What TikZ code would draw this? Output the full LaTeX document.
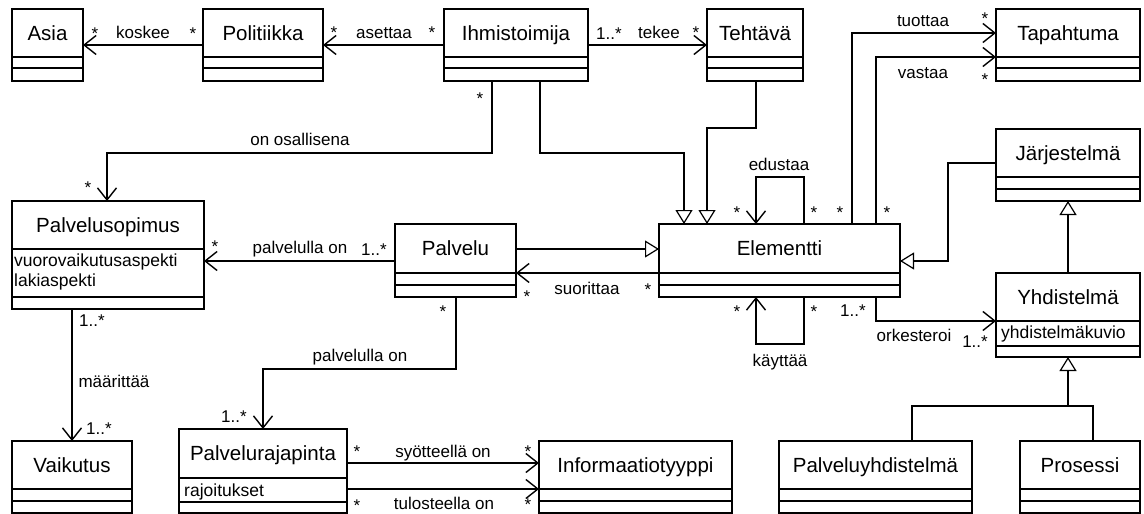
\documentclass[tikz,border=0pt]{standalone}
\usepackage{fontspec}
\setmainfont{Liberation Sans}
\usetikzlibrary{arrows.meta}

\tikzset{
  cls/.style={draw, line width=1.2pt, inner sep=0pt, outer sep=0pt, anchor=north west},
  conn/.style={line width=1.2pt},
  assoc/.style={conn, -{Straight Barb[length=12pt,width=19pt,line width=1.4pt]}},
  gen/.style={conn, -{Triangle[open,length=14pt,width=17pt]}},
  ctitle/.style={font=\fontsize{20.5}{24}\selectfont, anchor=base, inner sep=0pt},
  lbl/.style={font=\fontsize{17}{20}\selectfont, anchor=base, inner sep=0pt},
  attr/.style={font=\fontsize{17.5}{20}\selectfont, anchor=base west, inner sep=0pt},
}

% UML class box: name, left x, top y, width, height, title, header height, second rule offset
\newcommand\umlclass[8]{%
  \node[cls, minimum width=#4pt, minimum height=#5pt] (#1) at (#2,-#3) {};
  \draw[conn] ([yshift=-#7pt]#1.north west) -- ([yshift=-#7pt]#1.north east);
  \draw[conn] ([yshift=-#8pt]#1.north west) -- ([yshift=-#8pt]#1.north east);
  \node[ctitle] (#1-title) at ([yshift={-(#7/2+7.3)*1pt}]#1.north) {#6};
}

\begin{document}
\begin{tikzpicture}[x=1pt, y=1pt]
\useasboundingbox (0,0) rectangle (1144,-514);

% classes
\umlclass{asia}{12}{9}{71}{72}{Asia}{48}{59}
\umlclass{pol}{203}{9}{120}{72}{Politiikka}{48}{59}
\umlclass{ihm}{444}{9}{144}{72}{Ihmistoimija}{48}{59}
\umlclass{teh}{707}{9}{96}{72}{Tehtävä}{48}{59}
\umlclass{tap}{996}{9}{144}{72}{Tapahtuma}{48}{59}
\umlclass{jar}{996}{129}{144}{72}{Järjestelmä}{48}{60}
\umlclass{sop}{12}{201}{192}{108}{Palvelusopimus}{48}{96}
\umlclass{pal}{395}{224}{121}{73}{Palvelu}{49}{61}
\umlclass{ele}{659}{224}{241}{73}{Elementti}{49}{61}
\umlclass{yhd}{996}{273}{144}{84}{Yhdistelmä}{48}{73}
\umlclass{vai}{12}{441}{120}{72}{Vaikutus}{48}{60}
\umlclass{raj}{179}{429}{168}{84}{Palvelurajapinta}{49}{73}
\umlclass{inf}{539}{441}{193}{72}{Informaatiotyyppi}{48}{60}
\umlclass{pyh}{779}{441}{193}{72}{Palveluyhdistelmä}{48}{60}
\umlclass{pro}{1020}{441}{120}{72}{Prosessi}{48}{60}

% attributes
\node[attr] (sop-a1) at ([xshift=2pt,yshift=-65pt]sop.north west) {vuorovaikutusaspekti};
\node[attr] (sop-a2) at ([xshift=2pt,yshift=-85pt]sop.north west) {lakiaspekti};
\node[attr] (yhd-a1) at ([xshift=5pt,yshift=-65pt]yhd.north west) {yhdistelmäkuvio};
\node[attr] (raj-a1) at ([xshift=5pt,yshift=-67pt]raj.north west) {rajoitukset};

% associations
\draw[assoc] ([yshift=-36pt]pol.north west) -- ([yshift=-36pt]asia.north east);
\draw[assoc] ([yshift=-36pt]ihm.north west) -- ([yshift=-36pt]pol.north east);
\draw[assoc] ([yshift=-36pt]ihm.north east) -- ([yshift=-36pt]teh.north west);
\draw[assoc] ([xshift=48pt]ihm.south west) -- ++(0,-72) -| ([xshift=95pt]sop.north west);
\draw[assoc] ([xshift=145pt]ele.north west) -- ++(0,47) -| ([xshift=97pt]ele.north west);
\draw[assoc] ([xshift=193pt]ele.north west) |- ([yshift=-24pt]tap.north west);
\draw[assoc] ([xshift=217pt]ele.north west) |- ([yshift=-48pt]tap.north west);
\draw[assoc] ([xshift=217pt]ele.south west) |- ([yshift=-48pt]yhd.north west);
\draw[assoc] ([xshift=145pt]ele.south west) -- ++(0,-47) -| ([xshift=97pt]ele.south west);
\draw[assoc] ([yshift=-49pt]ele.north west) -- ([yshift=-49pt]pal.north east);
\draw[assoc] ([yshift=-37pt]pal.north west) -- ([yshift=-60pt]sop.north east);
\draw[assoc] ([xshift=60pt]sop.south west) -- ([xshift=60pt]vai.north west);
\draw[assoc] ([xshift=61pt]pal.south west) -- ++(0,-72) -| ([xshift=84pt]raj.north west);
\draw[assoc] ([yshift=-34pt]raj.north east) -- ([yshift=-22pt]inf.north west);
\draw[assoc] ([yshift=-60pt]raj.north east) -- ([yshift=-48pt]inf.north west);

% generalizations
\draw[gen] ([xshift=96pt]ihm.south west) -- ++(0,-72) -| ([xshift=25pt]ele.north west);
\draw[gen] ([xshift=49pt]teh.south west) -- ++(0,-47) -| ([xshift=48pt]ele.north west);
\draw[gen] ([yshift=-34pt]jar.north west) -- ++(-48,0) |- ([yshift=-37pt]ele.north east);
\draw[gen] (yhd.north) -- (jar.south);
\draw[gen] ([yshift=-25pt]pal.north east) -- ([yshift=-25pt]ele.north west);
\coordinate (gj) at ([yshift=-49pt]yhd.south);
\draw[conn] ([xshift=133pt]pyh.north west) |- (gj);
\draw[conn] ([xshift=73pt]pro.north west) |- (gj);
\draw[gen] (gj) -- (yhd.south);

% association names
\node[lbl] (l-koskee) at (143,-38.8) {koskee};
\node[lbl] (l-asettaa) at (384,-38.5) {asettaa};
\node[lbl] (l-tekee) at (659,-38.5) {tekee};
\node[lbl] (l-osall) at (300,-145.5) {on osallisena};
\node[lbl] (l-tuottaa) at (923,-26.5) {tuottaa};
\node[lbl] (l-vastaa) at (923,-78.2) {vastaa};
\node[lbl] (l-edustaa) at (779,-170.5) {edustaa};
\node[lbl] (l-palv1) at (300,-253.5) {palvelulla on};
\node[lbl] (l-suor) at (587,-294.8) {suorittaa};
\node[lbl] (l-kayt) at (780,-366) {käyttää};
\node[lbl] (l-ork) at (914,-341.5) {orkesteroi};
\node[lbl] (l-maar) at (114,-387.2) {määrittää};
\node[lbl] (l-palv2) at (360,-361.8) {palvelulla on};
\node[lbl] (l-syot) at (443,-457.2) {syötteellä on};
\node[lbl] (l-tulo) at (444,-509.5) {tulosteella on};

% multiplicities
\foreach \px/\py [count=\i] in {95/39, 193/39, 334/38.7, 432/38.7, 696/38.7, 480/104,
    88/193.7, 985/24.7, 985/85.7, 737/218.7, 814/218.7, 840/218.7, 887/218.7,
    215/252.7, 527/302.4, 648/295.7, 443/317.7, 737/317.7, 814/317.7,
    357/457.7, 528/457.7, 357/511.4, 528/510}
  \node[lbl] (m-star-\i) at (\px,-\py) {*};
\foreach \px/\py [count=\i] in {609/39, 374/255, 853/316, 975/347, 92/326, 99/434, 234/422.7}
  \node[lbl] (m-many-\i) at (\px,-\py) {1..*};
\end{tikzpicture}
\end{document}
